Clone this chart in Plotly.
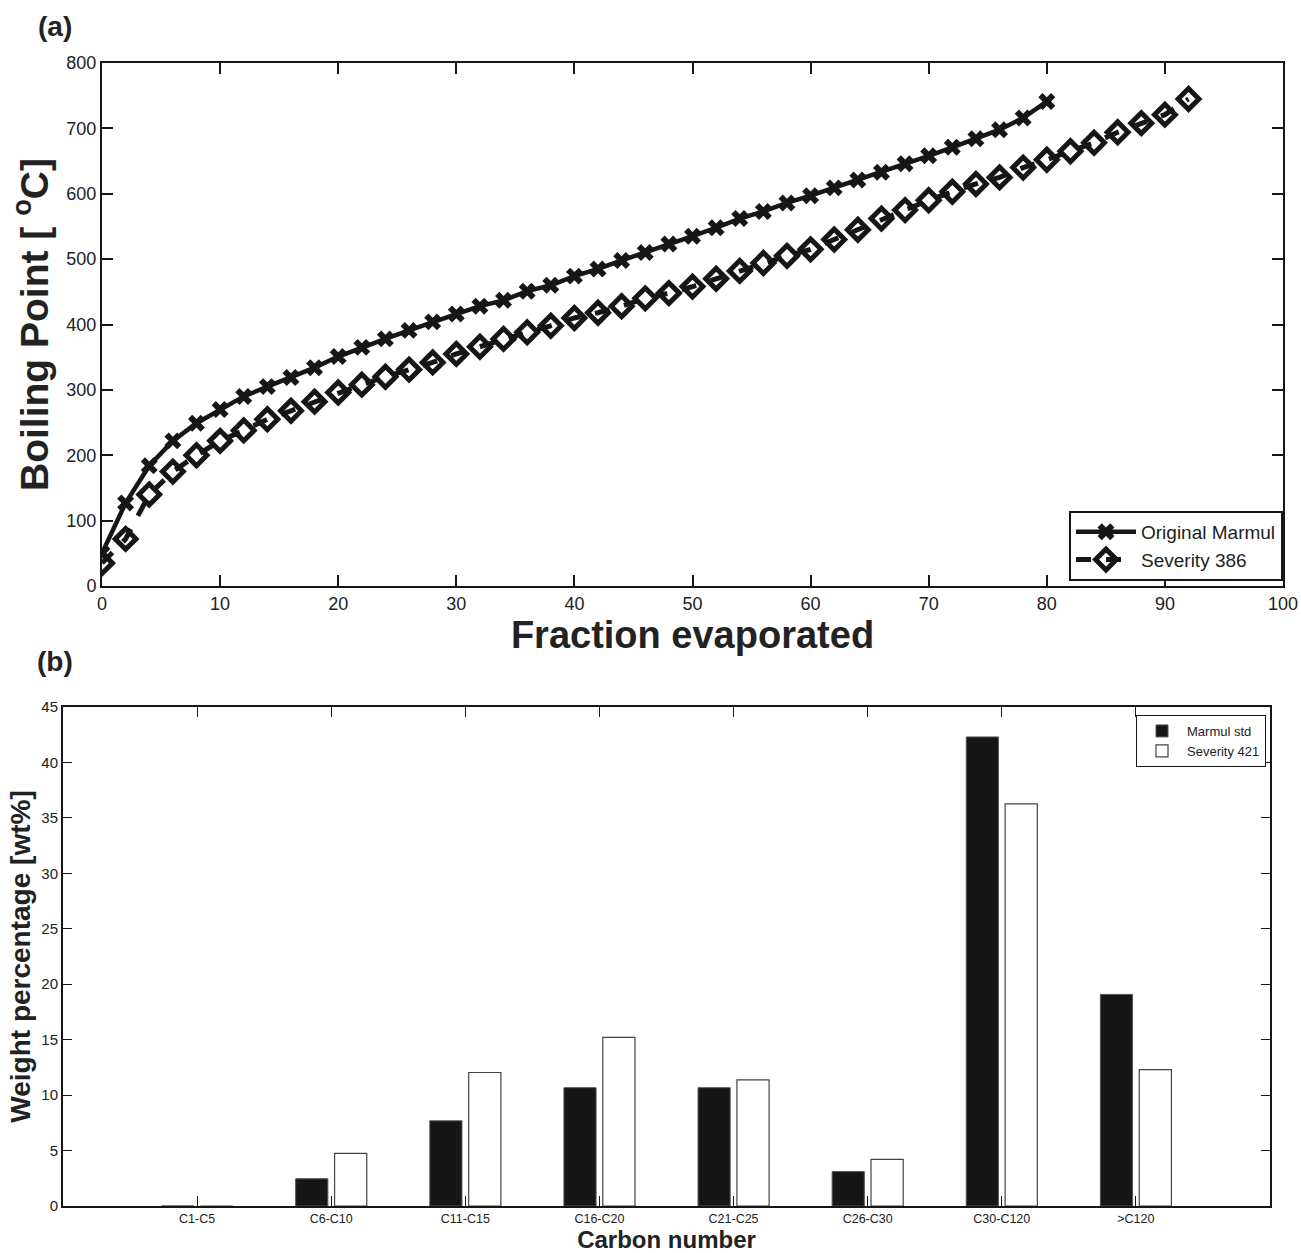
import plotly.graph_objects as go

# ---------------- Data: panel (a) ----------------
frac_marmul = [0, 2, 4, 6, 8, 10, 12, 14, 16, 18, 20, 22, 24, 26, 28, 30, 32, 34, 36, 38, 40,
               42, 44, 46, 48, 50, 52, 54, 56, 58, 60, 62, 64, 66, 68, 70, 72, 74, 76, 78, 80]
bp_marmul = [50, 127, 184, 222, 249, 270, 290, 305, 319, 334, 351, 365, 378, 391, 404, 416, 428,
             437, 451, 460, 474, 485, 498, 510, 523, 535, 548, 562, 573, 586, 597, 609, 621, 633,
             646, 658, 671, 684, 698, 716, 741]

frac_sev = [0, 2, 4, 6, 8, 10, 12, 14, 16, 18, 20, 22, 24, 26, 28, 30, 32, 34, 36, 38, 40, 42, 44,
            46, 48, 50, 52, 54, 56, 58, 60, 62, 64, 66, 68, 70, 72, 74, 76, 78, 80, 82, 84, 86, 88,
            90, 92]
bp_sev = [35, 72, 140, 175, 200, 222, 238, 255, 268, 282, 296, 308, 320, 331, 342, 355, 366, 378,
          388, 398, 410, 418, 428, 440, 448, 458, 470, 482, 494, 505, 515, 530, 545, 562, 575, 590,
          603, 615, 625, 640, 652, 665, 678, 694, 708, 721, 745]

# ---------------- Data: panel (b) ----------------
carbon_cats = ["C1-C5", "C6-C10", "C11-C15", "C16-C20", "C21-C25", "C26-C30", "C30-C120", ">C120"]
wt_marmul_std = [0, 2.46, 7.68, 10.67, 10.67, 3.1, 42.3, 19.08]
wt_severity_421 = [0, 4.75, 12.04, 15.2, 11.37, 4.2, 36.27, 12.3]

W, H = 1301, 1253
FONT = "Liberation Sans, Arial, Helvetica, sans-serif"
BLACK = "#161616"
TXT = "#222222"


def px_x(p):
    return p / W


def px_y(p):
    return 1 - p / H


fig = go.Figure()

fig.add_trace(go.Scatter(
    x=frac_marmul, y=bp_marmul, mode="lines+markers", name="Original Marmul",
    line=dict(color=BLACK, width=4.5),
    marker=dict(symbol="x", size=15, color=BLACK, line=dict(width=0)),
    xaxis="x", yaxis="y", legend="legend",
))
fig.add_trace(go.Scatter(
    x=frac_sev, y=bp_sev, mode="lines+markers", name="Severity 386",
    line=dict(color=BLACK, width=5, dash="dash"),
    marker=dict(symbol="diamond-open", size=16, color=BLACK, line=dict(width=5, color=BLACK)),
    xaxis="x", yaxis="y", legend="legend",
))

fig.add_trace(go.Bar(
    x=carbon_cats, y=wt_marmul_std, name="Marmul std",
    marker=dict(color=BLACK, line=dict(color="#555555", width=1)),
    width=0.24, offset=-0.265,
    xaxis="x2", yaxis="y2", legend="legend2",
))
fig.add_trace(go.Bar(
    x=carbon_cats, y=wt_severity_421, name="Severity 421",
    marker=dict(color="white", line=dict(color="#444444", width=1.2)),
    width=0.24, offset=0.025,
    xaxis="x2", yaxis="y2", legend="legend2",
))

axis_common = dict(
    showline=True, linecolor=BLACK, mirror="ticks",
    ticks="inside", tickcolor=BLACK, showgrid=False, zeroline=False,
    automargin=False, layer="above traces",
)

fig.update_layout(
    width=W, height=H,
    margin=dict(l=0, r=0, t=0, b=0),
    paper_bgcolor="white", plot_bgcolor="white",
    font=dict(family=FONT, color=TXT),
    barmode="group",
    xaxis=dict(
        domain=[px_x(102), px_x(1283)], anchor="y",
        range=[0, 100], tickmode="array", tickvals=list(range(0, 101, 10)),
        ticklen=11, tickwidth=1.5, linewidth=2, tickfont=dict(size=18, family=FONT),
        title=dict(text="<b>Fraction evaporated</b>", font=dict(size=38, family=FONT, color=TXT),
                   standoff=2),
        **axis_common,
    ),
    yaxis=dict(
        domain=[px_y(586), px_y(63)], anchor="x",
        range=[0, 800], tickmode="array", tickvals=list(range(0, 801, 100)),
        ticklen=11, tickwidth=1.5, linewidth=2, tickfont=dict(size=18, family=FONT),
        title=dict(text="<b>Boiling Point [ <sup>o</sup>C]</b>",
                   font=dict(size=39, family=FONT, color=TXT), standoff=6),
        **axis_common,
    ),
    xaxis2=dict(
        domain=[px_x(63), px_x(1270)], anchor="y2",
        type="category", range=[-1, 8],
        ticklen=10, tickwidth=1, linewidth=2.4, tickfont=dict(size=12.5, family=FONT),
        title=dict(text="<b>Carbon number</b>", font=dict(size=24, family=FONT, color=TXT),
                   standoff=3),
        **axis_common,
    ),
    yaxis2=dict(
        domain=[px_y(1206), px_y(707)], anchor="x2",
        range=[0, 45], tickmode="array", tickvals=list(range(0, 46, 5)),
        ticklen=9, tickwidth=1, linewidth=2, tickfont=dict(size=15, family=FONT),
        title=dict(text="<b>Weight percentage [wt%]</b>",
                   font=dict(size=28, family=FONT, color=TXT), standoff=3),
        **axis_common,
    ),
    legend=dict(
        x=px_x(1283), y=px_y(581), xanchor="right", yanchor="bottom",
        bgcolor="white", bordercolor=BLACK, borderwidth=2,
        font=dict(size=19, family=FONT, color=TXT),
        itemwidth=60, tracegroupgap=0,
    ),
    legend2=dict(
        x=px_x(1266), y=px_y(715), xanchor="right", yanchor="top",
        bgcolor="white", bordercolor=BLACK, borderwidth=1,
        font=dict(size=13, family=FONT, color=TXT),
        itemwidth=40, tracegroupgap=0,
    ),
    showlegend=True,
    annotations=[
        dict(text="<b>(a)</b>", x=px_x(55), y=px_y(27), xref="paper", yref="paper",
             xanchor="center", yanchor="middle",
             showarrow=False, font=dict(size=28, family=FONT, color=TXT)),
        dict(text="<b>(b)</b>", x=px_x(55), y=px_y(661), xref="paper", yref="paper",
             xanchor="center", yanchor="middle",
             showarrow=False, font=dict(size=28, family=FONT, color=TXT)),
    ],
)

fig.write_html("out.html", config={"displayModeBar": False},
               post_script="document.body.style.margin='0';")
